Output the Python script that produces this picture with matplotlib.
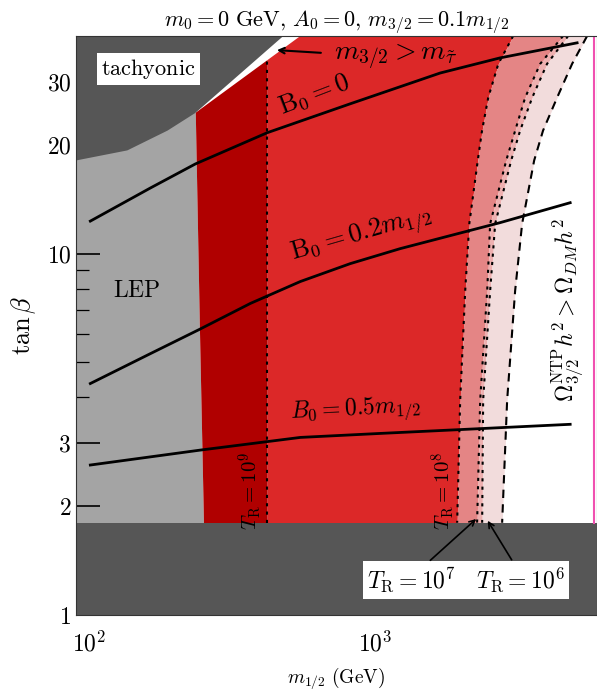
import numpy as np
import matplotlib
matplotlib.use('Agg')
import matplotlib.pyplot as plt
from matplotlib.ticker import FixedLocator, FixedFormatter, NullFormatter

plt.rcParams['mathtext.fontset'] = 'cm'
plt.rcParams['font.family'] = 'serif'
plt.rcParams['font.serif'] = ['DejaVu Serif']

# --- boundaries (m_1/2 in GeV, tan beta) ---
# common tan beta grid for the right-hand contours
tb_grid = [40, 33.5, 27.0, 21.9, 18.1, 12.1, 7.9, 3.93, 1.8]
m_TR8 = [3030, 2690, 2480, 2360, 2280, 2130, 2061, 1979, 1932]
m_TR7 = [4529, 3767, 3337, 3081, 2867, 2519, 2460, 2325, 2268]
m_TR6 = [4717, 3981, 3532, 3206, 2983, 2623, 2519, 2381, 2362]
m_dash = [5495, 4870, 4315, 3855, 3589, 3258, 3080, 2888, 2774]

m_TR9 = 419
tb_low = 1.8          # bottom excluded band
m_ntp = 5800          # magenta line

# LEP boundary (bottom to top)
tb_lep = [1.8, 6.13, 24.5, 40]
m_lep = [251, 243, 235, 235]

# tachyonic region
m_tach = [90, 136, 188, 235, 477, 90]
tb_tach = [18.1, 19.3, 21.9, 24.5, 40, 40]
# upper edge of the allowed (red) region
m_edge = [235, 547]
tb_edge = [24.5, 40]

# B0 curves
m_b00 = [101, 164, 235, 419, 817, 1400, 1685, 2729, 5070]
tb_b00 = [12.3, 15.2, 17.7, 21.6, 25.97, 30.05, 31.6, 34.8, 38.3]
m_b02 = [101, 164, 243, 366, 547, 817, 1221, 1824, 2729, 4795]
tb_b02 = [4.37, 5.29, 6.17, 7.28, 8.37, 9.38, 10.32, 11.21, 12.18, 13.83]
m_b05 = [101, 245, 547, 1041, 4795]
tb_b05 = [2.6, 2.86, 3.10, 3.18, 3.37]

xlim = (90, 5950)
ylim = (1, 40)

fig = plt.figure(figsize=(5.97, 6.90), dpi=100)
ax = fig.add_axes([0.1273, 0.1087, 0.8727, 0.8391])
ax.set_xscale('log')
ax.set_yscale('log')
ax.set_xlim(*xlim)
ax.set_ylim(*ylim)

dgray = '#565656'
lgray = '#a4a4a4'
dred = '#b00000'
red = '#dc2828'
pink = '#e48585'
pink2 = '#eeb0b0'
pink3 = '#f2dcdc'

# LEP (light gray) and dark red / red fills
ax.fill_betweenx(tb_lep, [90] * 4, m_lep, color=lgray, lw=0, zorder=1)
ax.fill_betweenx(tb_lep, m_lep, [m_TR9] * 4, color=dred, lw=0, zorder=1)
ax.fill_betweenx(tb_grid, [m_TR9] * len(tb_grid), m_TR8, color=red, lw=0, zorder=1)
ax.fill_betweenx(tb_grid, m_TR8, m_TR7, color=pink, lw=0, zorder=1)
ax.fill_betweenx(tb_grid, m_TR7, m_TR6, color=pink2, lw=0, zorder=1)
ax.fill_betweenx(tb_grid, m_TR6, m_dash, color=pink3, lw=0, zorder=1)

# white wedge and tachyonic region
ax.fill(m_edge + [m_edge[0]], tb_edge + [40], color='white', lw=0, zorder=2)
ax.fill(m_tach, tb_tach, color=dgray, lw=0, zorder=2)

# bottom excluded band
ax.fill_between(xlim, [1, 1], [tb_low, tb_low], color=dgray, lw=0, zorder=2)

# contour lines
dot = (0, (1.5, 2.5))
ax.plot([m_TR9, m_TR9], [tb_low, 34.3], color='k', ls=dot, lw=1.5, zorder=3)
ax.plot(m_TR8, tb_grid, color='k', ls=dot, lw=1.5, zorder=3)
ax.plot(m_TR7, tb_grid, color='k', ls=dot, lw=1.5, zorder=3)
ax.plot(m_TR6, tb_grid, color='k', ls=dot, lw=1.5, zorder=3)
ax.plot(m_dash, tb_grid, color='k', ls=(0, (4, 3)), lw=1.5, zorder=3)
ax.plot([m_ntp, m_ntp], [tb_low, 40], color='#f050b0', lw=1.5, zorder=3)

ax.plot(m_b00, tb_b00, color='k', lw=2, zorder=4)
ax.plot(m_b02, tb_b02, color='k', lw=2, zorder=4)
ax.plot(m_b05, tb_b05, color='k', lw=2, zorder=4)

# labels
ax.text(161, 32.4, r'$\mathrm{tachyonic}$', fontsize=16, ha='center', va='center', zorder=5,
        bbox=dict(facecolor='white', edgecolor='none', pad=3))
ax.text(147, 7.9, r'$\mathrm{LEP}$', fontsize=17, ha='center', va='center', zorder=5)
ax.text(610, 27.6, r'$\mathrm{B}_0=0$', fontsize=19, ha='center', va='center', rotation=21, zorder=5)
ax.text(900, 11.2, r'$\mathrm{B}_0=0.2m_{1/2}$', fontsize=19, ha='center', va='center', rotation=16, zorder=5)
ax.text(851, 3.68, r'$B_0=0.5m_{1/2}$', fontsize=17, ha='center', va='center', rotation=3, zorder=5)
ax.text(1180, 35.0, r'$m_{3/2}>m_{\tilde{\tau}}$', fontsize=20, ha='center', va='center', zorder=5)
ax.annotate('', xy=(443, 36.6), xytext=(660, 35.9), zorder=5,
            arrowprops=dict(arrowstyle='->', color='k', lw=1.5))
ax.text(366, 2.21, r'$T_{\mathrm{R}}=10^9$', fontsize=15, ha='center', va='center', rotation=90, zorder=5)
ax.text(1726, 2.21, r'$T_{\mathrm{R}}=10^8$', fontsize=15, ha='center', va='center', rotation=90, zorder=5)
ax.text(2075, 1.25, r'$T_{\mathrm{R}}=10^7\quad T_{\mathrm{R}}=10^6$', fontsize=17,
        ha='center', va='center', zorder=5, bbox=dict(facecolor='white', edgecolor='none', pad=3))
ax.annotate('', xy=(2289, 1.866), xytext=(1531, 1.40), zorder=5,
            arrowprops=dict(arrowstyle='->', color='k', lw=1.2))
ax.annotate('', xy=(2441, 1.851), xytext=(3030, 1.40), zorder=5,
            arrowprops=dict(arrowstyle='->', color='k', lw=1.2))
ax.text(4716, 6.96, r'$\Omega_{3/2}^{\mathrm{NTP}}h^2>\Omega_{DM}h^2$', fontsize=17,
        ha='center', va='center', rotation=90, zorder=5)

# ticks
ax.xaxis.set_major_locator(FixedLocator([100, 1000]))
ax.xaxis.set_major_formatter(FixedFormatter([r'$10^2$', r'$10^3$']))
ax.xaxis.set_minor_locator(FixedLocator([200, 300, 400, 500, 600, 700, 800, 900,
                                         2000, 3000, 4000, 5000]))
ax.xaxis.set_minor_formatter(NullFormatter())
ax.yaxis.set_major_locator(FixedLocator([1, 2, 3, 10, 20, 30]))
ax.yaxis.set_major_formatter(FixedFormatter([r'$1$', r'$2$', r'$3$', r'$10$', r'$20$', r'$30$']))
ax.yaxis.set_minor_locator(FixedLocator([4, 5, 6, 7, 8, 9]))
ax.yaxis.set_minor_formatter(NullFormatter())
ax.tick_params(which='both', direction='in', top=False, right=False, labelsize=17, zorder=6)
ax.tick_params(which='major', length=17, width=1.2)
ax.tick_params(which='minor', length=9, width=0.9)
ax.tick_params(axis='x', which='major', pad=12)
for sp in ax.spines.values():
    sp.set_zorder(6)
    sp.set_color('#333333')

ax.set_title(r'$m_0=0\ \mathrm{GeV},\, A_0=0,\, m_{3/2}=0.1m_{1/2}$', fontsize=16, pad=6)
ax.set_xlabel(r'$m_{1/2}\ \mathrm{(GeV)}$', fontsize=14, labelpad=6)
ax.set_ylabel(r'$\tan\beta$', fontsize=19, labelpad=6)

fig.savefig('out.png', dpi=100)
